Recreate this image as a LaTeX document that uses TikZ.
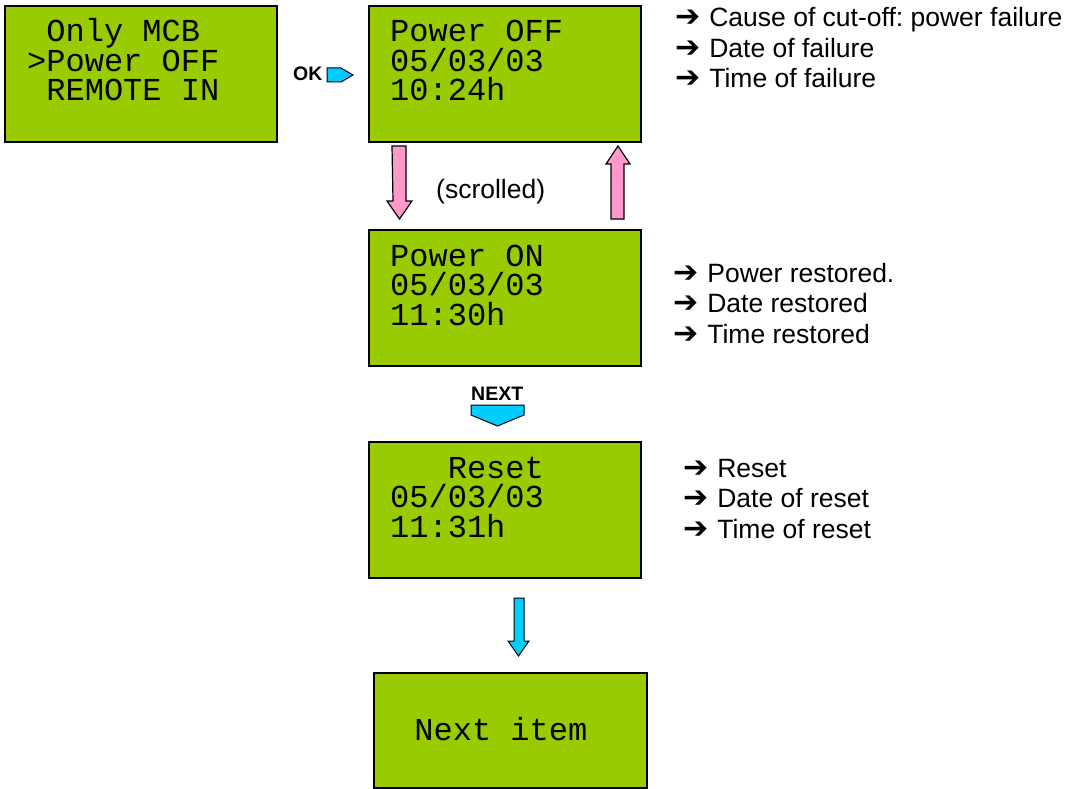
\documentclass[tikz,border=0pt]{standalone}
\usepackage{fontspec}
\setmainfont{Liberation Sans}
\newfontfamily\lcdfont{Liberation Mono}
\newfontfamily\symfont{DejaVu Sans}
\usetikzlibrary{calc}
\frenchspacing

\definecolor{lcdgreen}{HTML}{99CC00}
\definecolor{scrollpink}{HTML}{FF99CC}
\definecolor{keyblue}{HTML}{00CCFF}

\newcommand{\pointer}{{\fontsize{30}{30}\symfont\bfseries ➔}\hspace{9pt}}
\newcommand{\screenfont}{\fontsize{32}{29.5}\lcdfont\lineskiplimit=-50pt\relax}
\newcommand{\notefont}{\fontsize{26.5}{30.5}\selectfont\lineskiplimit=-50pt\relax}

\begin{document}
\begin{tikzpicture}[
    x=1pt,
    y=-1pt,
    lcd/.style={draw=black, line width=2pt, fill=lcdgreen, minimum width=272pt, minimum height=136pt, inner sep=0pt},
    screen/.style={font=\screenfont, text=black, align=left, anchor=base west, inner sep=0pt},
    note/.style={font=\notefont, align=left, anchor=base west, inner sep=0pt},
    keylabel/.style={font=\fontsize{19.5}{20}\selectfont\bfseries, anchor=base west, inner sep=0pt},
    pinkarrow/.style={draw=black, line width=1.2pt, fill=scrollpink},
    bluearrow/.style={draw=black, line width=1pt, fill=keyblue}
]
\useasboundingbox (0,0) rectangle (1071,789);

% Displays
\node[lcd] (menu) at (141,74) {};
\node[lcd] (pwroff) at (505,74) {};
\node[lcd] (pwron) at (505,298) {};
\node[lcd] (reset) at (505,510) {};
\node[lcd, minimum width=273pt, minimum height=115pt] (nextitem) at (510.5,730.5) {};

% Display texts (anchored on the last line)
\node[screen] (menutxt) at ([xshift=23pt, yshift=-96pt]menu.north west) {~Only MCB\\>Power OFF\\~REMOTE IN};
\node[screen] (pwrofftxt) at ([xshift=22pt, yshift=-96pt]pwroff.north west) {Power OFF\\05/03/03\\10:24h};
\node[screen] (pwrontxt) at ([xshift=22pt, yshift=-96pt]pwron.north west) {Power ON\\05/03/03\\11:30h};
\node[screen] (resettxt) at ([xshift=22pt, yshift=-96pt]reset.north west) {~~~Reset\\05/03/03\\11:31h};
\node[screen] (nexttxt) at ([xshift=22pt, yshift=-68pt]nextitem.north west) {~Next item};

% Explanations
\node[note] (offnote) at (675,88) {\pointer Cause of cut-off: power failure\\\pointer Date of failure\\\pointer Time of failure};
\node[note] (onnote) at (673,343) {\pointer Power restored.\\\pointer Date restored\\\pointer Time restored};
\node[note] (resetnote) at (683,538) {\pointer Reset\\\pointer Date of reset\\\pointer Time of reset};

% OK key
\node[keylabel] (oklbl) at (293,81) {OK};
\draw[bluearrow] ($(menu.east)+(49,-6)$) -- ++(14,0) -- ++(12,7) -- ++(-12,7) -- ++(-14,0) -- cycle;

% Scrolling
\draw[pinkarrow] ($(pwroff.south west)+(24,3)$) -- ++(14,0) -- ++(0,55) -- ++(6,0)
    -- ++(-12.5,18) -- ++(-12.5,-18) -- ++(6,0) -- cycle;
\draw[pinkarrow] ($(pwroff.south east)+(-24,3)$) -- ++(12,18) -- ++(-6,0) -- ++(0,55)
    -- ++(-13,0) -- ++(0,-55) -- ++(-5,0) -- cycle;
\node[note] (scrolled) at (436,198) {(scrolled)};

% NEXT key
\node[keylabel] (nextlbl) at (471,400.5) {NEXT};
\draw[bluearrow] ($(pwron.south)+(-34,38)$) -- ++(53,0) -- ++(0,10) -- ++(-26.5,11)
    -- ++(-26.5,-11) -- cycle;

% To next item
\draw[bluearrow] ($(reset.south)+(9,19)$) -- ++(10,0) -- ++(0,43) -- ++(5,0)
    -- ++(-10.5,15) -- ++(-10.5,-15) -- ++(6,0) -- cycle;

\end{tikzpicture}
\end{document}
